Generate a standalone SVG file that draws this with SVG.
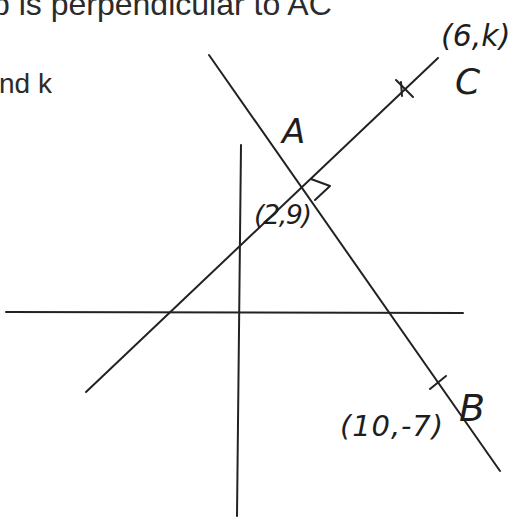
<svg xmlns="http://www.w3.org/2000/svg" width="525" height="517" viewBox="0 0 525 517">
  <style>
    .print { font-family: "Liberation Sans", Arial, sans-serif; fill: #2b2b2b; }
    .hand { font-family: "DejaVu Sans", "Liberation Sans", sans-serif; font-style: italic; font-weight: 300; fill: #1e1e1e; }
    .ln { stroke: #222; stroke-width: 2; fill: none; stroke-linecap: round; stroke-linejoin: round; }
  </style>
  <rect width="525" height="517" fill="#ffffff"/>

  <g id="question-text">
    <text class="print" x="-8" y="15" font-size="32">b is perpendicular to AC</text>
    <text class="print" x="-1" y="93" font-size="28">nd k</text>
  </g>

  <g id="connectors">
    <line class="ln" x1="6" y1="312" x2="463" y2="313"/>
    <line class="ln" x1="241" y1="145" x2="237" y2="516"/>
    <line class="ln" x1="86" y1="392" x2="438" y2="58"/>
    <line class="ln" x1="209" y1="55" x2="500" y2="471"/>
    <polyline class="ln" points="311,179 330,186 315,200"/>
  </g>

  <g id="point-C">
    <line class="ln" x1="396" y1="80" x2="413" y2="97"/>
    <line class="ln" x1="401" y1="82" x2="402" y2="96"/>
    <text class="hand" x="441" y="46" font-size="30">(6,k)</text>
    <text class="hand" x="455" y="94" font-size="36">C</text>
  </g>

  <g id="point-A">
    <text class="hand" x="282" y="143" font-size="34">A</text>
    <text class="hand" x="254" y="224" font-size="27" textLength="58" lengthAdjust="spacing">(2,9)</text>
  </g>

  <g id="point-B">
    <line class="ln" x1="430" y1="389" x2="446" y2="376"/>
    <text class="hand" x="340" y="436" font-size="29" textLength="103" lengthAdjust="spacing">(10,-7)</text>
    <text class="hand" x="459" y="421" font-size="38">B</text>
  </g>
</svg>
